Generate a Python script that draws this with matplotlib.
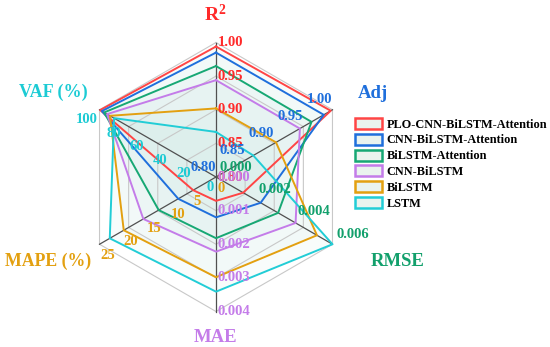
import numpy as np
import matplotlib.pyplot as plt
from matplotlib.patches import Patch, Polygon

# --- dane ---
axis_names = [r'$\mathbf{R^{2}}$', 'Adj', 'RMSE', 'MAE', 'MAPE (%)', 'VAF (%)']
axis_min = [0.80, 0.80, 0.000, 0.000, 0, 0]
axis_max = [1.00, 1.00, 0.006, 0.004, 25, 100]
tick_labels = [
    ['0.80', '0.85', '0.90', '0.95', '1.00'],
    ['0.80', '0.85', '0.90', '0.95', '1.00'],
    ['0.000', '0.002', '0.004', '0.006'],
    ['0.000', '0.001', '0.002', '0.003', '0.004'],
    ['0', '5', '10', '15', '20', '25'],
    ['0', '20', '40', '60', '80', '100'],
]

models = ['PLO-CNN-BiLSTM-Attention', 'CNN-BiLSTM-Attention', 'BiLSTM-Attention',
          'CNN-BiLSTM', 'BiLSTM', 'LSTM']
r2 = [0.994, 0.985, 0.965, 0.944, 0.902, 0.867]
adj = [0.997, 0.985, 0.964, 0.944, 0.903, 0.864]
rmse = [0.0014, 0.0023, 0.0032, 0.0041, 0.0052, 0.0060]
mae = [0.00071, 0.00120, 0.00182, 0.00222, 0.00298, 0.00341]
mape = [4.9, 8.1, 12.3, 15.6, 19.8, 22.8]
vaf = [99.5, 98.0, 96.0, 93.5, 91.0, 87.5]

series_colors = ['#ff4545', '#1f6fdc', '#17a874', '#c47ce9', '#e3a010', '#22cdd6']
axis_colors = ['#ff2a2a', '#1f6fdc', '#12a06c', '#c47ce9', '#e3a010', '#1ccbd4']

# --- geometria ---
cx, cy, R = 216, 177, 134.5
angles = np.deg2rad([90, 30, -30, -90, -150, 150])


def pos(r, k):
    return cx + R * r * np.cos(angles[k]), cy - R * r * np.sin(angles[k])


plt.rcParams['font.family'] = ['Liberation Serif', 'DejaVu Serif']
plt.rcParams['font.weight'] = 'bold'
plt.rcParams['mathtext.fontset'] = 'custom'
plt.rcParams['mathtext.rm'] = 'Liberation Serif'
plt.rcParams['mathtext.bf'] = 'Liberation Serif:bold'

fig = plt.figure(figsize=(5.5, 3.47), dpi=100)
ax = fig.add_axes([0, 0, 1, 1])
ax.set_xlim(0, 550)
ax.set_ylim(347, 0)
ax.axis('off')

# siatka
for lev in [0.25, 0.5, 0.75, 1.0]:
    pts = [pos(lev, k) for k in range(6)] + [pos(lev, 0)]
    xs, ys = zip(*pts)
    ax.plot(xs, ys, color='#c8c8c8', lw=0.8, zorder=2)

# osie
for k in range(6):
    x1, y1 = pos(1.0, k)
    ax.plot([cx, x1], [cy, y1], color='#505050', lw=0.9, zorder=3)

# serie
data = np.array([r2, adj, rmse, mae, mape, vaf]).T
for i, name in enumerate(models):
    rr = [(data[i][k] - axis_min[k]) / (axis_max[k] - axis_min[k]) for k in range(6)]
    pts = [pos(rr[k], k) for k in range(6)]
    ax.add_patch(Polygon(pts, closed=True, facecolor='#a6d9d2', alpha=0.07,
                         edgecolor='none', zorder=1))
    xs, ys = zip(*(pts + [pts[0]]))
    ax.plot(xs, ys, color=series_colors[i], lw=1.4, zorder=4)

# etykiety osi (ticki)
tfs = 10.5
for k in range(6):
    labs = tick_labels[k]
    n = len(labs) - 1
    for j, lab in enumerate(labs):
        x, y = pos(j / n, k)
        if k == 0:
            kw = dict(x=x + 2, y=y, ha='left', va='center')
        elif k == 1:
            kw = dict(x=x, y=y - 10, ha='right', va='center')
        elif k == 2:
            kw = dict(x=x + 4, y=y - 10, ha='left', va='center')
        elif k == 3:
            kw = dict(x=x + 2, y=y, ha='left', va='center')
        elif k == 4:
            kw = dict(x=x + 1, y=y + 11, ha='left', va='center')
        else:
            kw = dict(x=x - 2, y=y + 10, ha='right', va='center')
        ax.text(kw.pop('x'), kw.pop('y'), lab, color=axis_colors[k], fontsize=tfs,
                fontweight='bold', zorder=6 if k != 0 else 5, **kw)

# tytuly osi
title_pos = [(215, 14), (373, 93), (398, 262), (216, 337), (48, 261), (53, 92)]
title_fs = [14, 13.5, 13.5, 13.5, 12.8, 13]
for k in range(6):
    ax.text(title_pos[k][0], title_pos[k][1], axis_names[k], color=axis_colors[k],
            fontsize=title_fs[k], fontweight='bold', ha='center', va='center')

# legenda
handles = [Patch(facecolor='#eaf3ee', edgecolor=c, lw=1.8) for c in series_colors]
ax.legend(handles, models, loc='upper left', bbox_to_anchor=(355 / 550, 1 - 118 / 347),
          bbox_transform=fig.transFigure, frameon=False, borderpad=0, borderaxespad=0,
          handlelength=2.2, handleheight=1.0, handletextpad=0.4, labelspacing=0.26,
          prop={'family': 'Liberation Serif', 'weight': 'bold', 'size': 8.8})

plt.savefig('out.png', dpi=100)
